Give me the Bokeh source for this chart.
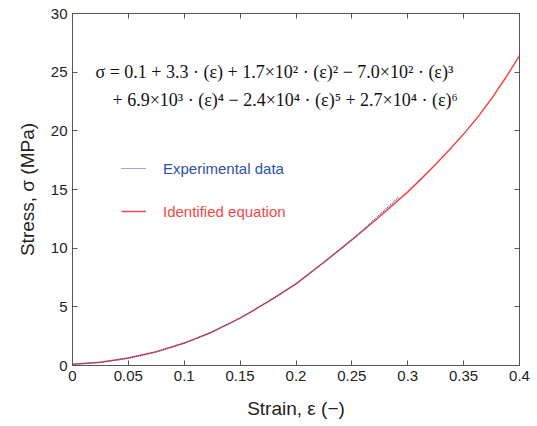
from bokeh.plotting import figure
from bokeh.models import (Range1d, LinearAxis, FixedTicker, Label, Legend, LegendItem)
from bokeh.embed import file_html
from bokeh.resources import INLINE

# --- data ---
exp_strain = [0.0, 0.02, 0.04, 0.06, 0.08, 0.10, 0.12, 0.14, 0.16, 0.18,
              0.20, 0.22, 0.24, 0.26, 0.28, 0.292]
exp_stress = [0.1, 0.23, 0.47, 0.82, 1.28, 1.90, 2.65, 3.55, 4.57, 5.72,
              6.95, 8.43, 9.93, 11.55, 13.30, 14.35]

fit_strain = [0.0, 0.025, 0.05, 0.075, 0.10, 0.125, 0.15, 0.175, 0.20, 0.225,
              0.25, 0.275, 0.30, 0.3125, 0.325, 0.3375, 0.35, 0.3625, 0.375,
              0.3875, 0.40]
fit_stress = [0.1, 0.28, 0.64, 1.18, 1.91, 2.86, 4.04, 5.44, 6.95, 8.80,
              10.70, 12.70, 14.80, 15.95, 17.15, 18.40, 19.72, 21.15, 22.75,
              24.50, 26.40]

x_ticks = [0, 0.05, 0.1, 0.15, 0.2, 0.25, 0.3, 0.35, 0.4]
x_tick_labels = ["0", "0.05", "0.1", "0.15", "0.2", "0.25", "0.3", "0.35", "0.4"]
y_ticks = [0, 5, 10, 15, 20, 25, 30]
y_tick_labels = ["0", "5", "10", "15", "20", "25", "30"]

eq_line1 = "σ = 0.1 + 3.3 · (ε) + 1.7×10² · (ε)² − 7.0×10² · (ε)³"
eq_line2 = "+ 6.9×10³ · (ε)⁴ − 2.4×10⁴ · (ε)⁵ + 2.7×10⁴ · (ε)⁶"

RED = "#F04848"
BLUE_LINE = "#4646B4"
BLUE_TEXT = "#2E50A8"
AXIS = "#555555"
FONT = "Liberation Sans"

p = figure(width=537, height=426, output_backend="svg", toolbar_location=None,
           x_range=Range1d(0, 0.4), y_range=Range1d(0, 30),
           min_border_left=72, min_border_right=18, min_border_top=13,
           min_border_bottom=61)
p.grid.visible = False
p.outline_line_color = AXIS
p.background_fill_color = "white"
p.border_fill_color = "white"

xb = p.xaxis[0]
yl = p.yaxis[0]

def style(ax, ticks, labels, show):
    ax.ticker = FixedTicker(ticks=ticks)
    ax.axis_line_color = AXIS
    ax.major_tick_line_color = AXIS
    ax.major_tick_in = 5
    ax.major_tick_out = 0
    ax.minor_tick_line_color = None
    ax.major_label_text_font = FONT
    ax.major_label_text_font_size = "15px"
    ax.major_label_text_color = "#222222"
    if show:
        ax.major_label_overrides = {t: l for t, l in zip(ticks, labels)}
        ax.major_label_standoff = 5
    else:
        ax.major_label_text_color = None
        ax.major_label_standoff = 0

style(xb, x_ticks, x_tick_labels, True)
style(yl, y_ticks, y_tick_labels, True)
top = LinearAxis()
right = LinearAxis()
style(top, x_ticks, x_tick_labels, False)
style(right, y_ticks, y_tick_labels, False)
p.add_layout(top, "above")
p.add_layout(right, "right")

xb.axis_label = "Strain, ε (−)"
yl.axis_label = "Stress, σ (MPa)"
for ax in (xb, yl):
    ax.axis_label_text_font = FONT
    ax.axis_label_text_font_size = "19px"
    ax.axis_label_text_font_style = "normal"
    ax.axis_label_text_color = "#222222"
xb.axis_label_standoff = 14
yl.axis_label_standoff = 10

r_fit = p.line(fit_strain, fit_stress, line_color=RED, line_width=1.5)
r_exp = p.line(exp_strain, exp_stress, line_color=BLUE_LINE, line_width=1.2,
               line_dash="1 1")

leg1 = Legend(items=[LegendItem(label="Experimental data", renderers=[r_exp])],
              location=(49, 187), label_text_color=BLUE_TEXT)
leg2 = Legend(items=[LegendItem(label="Identified equation", renderers=[r_fit])],
              location=(49, 144), label_text_color=RED)
for lg in (leg1, leg2):
    lg.border_line_color = None
    lg.background_fill_alpha = 0
    lg.padding = 0
    lg.margin = 0
    lg.glyph_width = 25
    lg.glyph_height = 20
    lg.label_height = 20
    lg.label_standoff = 17
    lg.label_text_font = FONT
    lg.label_text_font_size = "15px"
    p.add_layout(lg, "center")

for txt, x, y in ((eq_line1, 23, 284), (eq_line2, 40, 256)):
    p.add_layout(Label(x=x, y=y, x_units="screen", y_units="screen", text=txt,
                       text_font="Liberation Serif", text_font_size="18px",
                       text_color="#111111"))

open("out.html", "w").write(file_html(p, INLINE))
